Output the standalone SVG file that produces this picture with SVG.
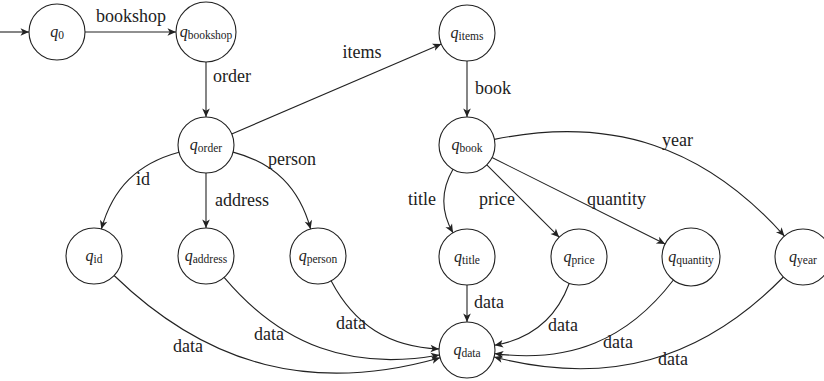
<svg xmlns="http://www.w3.org/2000/svg" width="824" height="381" viewBox="0 0 824 381" font-family="'Liberation Serif', 'DejaVu Serif', serif">
  <style>
    .st { fill: #fff; stroke: #222; stroke-width: 1.1; }
    .nm { fill: #222; text-anchor: middle; }
    .q { font-style: italic; font-size: 16px; }
    .sub { font-size: 11.5px; font-style: normal; }
    .edge { fill: none; stroke: #222; stroke-width: 1.1; marker-end: url(#head); }
    .lbl { font-size: 18px; fill: #222; }
  </style>
  <defs>
    <marker id="head" viewBox="-9 -5 10 10" refX="0" refY="0" markerWidth="10" markerHeight="10" markerUnits="userSpaceOnUse" orient="auto">
      <path d="M-8.5,-3.8 L0,0 L-8.5,3.8 L-6.3,0 Z" fill="#222"/>
    </marker>
  </defs>

  <!-- states -->
  <g id="q0"><circle class="st" cx="57" cy="32" r="28"/><text class="nm" x="57" y="37"><tspan class="q">q</tspan><tspan class="sub" dy="1.5">0</tspan></text></g>
  <g id="q-bookshop"><circle class="st" cx="206" cy="32" r="30"/><text class="nm" x="206" y="37"><tspan class="q">q</tspan><tspan class="sub" dy="1.5">bookshop</tspan></text></g>
  <g id="q-items"><circle class="st" cx="467" cy="33" r="28"/><text class="nm" x="467" y="38"><tspan class="q">q</tspan><tspan class="sub" dy="1.5">items</tspan></text></g>
  <g id="q-order"><circle class="st" cx="206" cy="145" r="28"/><text class="nm" x="206" y="150"><tspan class="q">q</tspan><tspan class="sub" dy="1.5">order</tspan></text></g>
  <g id="q-book"><circle class="st" cx="467" cy="145" r="28"/><text class="nm" x="467" y="150"><tspan class="q">q</tspan><tspan class="sub" dy="1.5">book</tspan></text></g>
  <g id="q-id"><circle class="st" cx="94" cy="256" r="28"/><text class="nm" x="94" y="261"><tspan class="q">q</tspan><tspan class="sub" dy="1.5">id</tspan></text></g>
  <g id="q-address"><circle class="st" cx="206" cy="256" r="28"/><text class="nm" x="206" y="261"><tspan class="q">q</tspan><tspan class="sub" dy="1.5">address</tspan></text></g>
  <g id="q-person"><circle class="st" cx="318" cy="256" r="28"/><text class="nm" x="318" y="261"><tspan class="q">q</tspan><tspan class="sub" dy="1.5">person</tspan></text></g>
  <g id="q-title"><circle class="st" cx="467" cy="257" r="28"/><text class="nm" x="467" y="262"><tspan class="q">q</tspan><tspan class="sub" dy="1.5">title</tspan></text></g>
  <g id="q-price"><circle class="st" cx="579" cy="257" r="28"/><text class="nm" x="579" y="262"><tspan class="q">q</tspan><tspan class="sub" dy="1.5">price</tspan></text></g>
  <g id="q-quantity"><circle class="st" cx="691" cy="257" r="29"/><text class="nm" x="691" y="262"><tspan class="q">q</tspan><tspan class="sub" dy="1.5">quantity</tspan></text></g>
  <g id="q-year"><circle class="st" cx="803" cy="257" r="28"/><text class="nm" x="803" y="262"><tspan class="q">q</tspan><tspan class="sub" dy="1.5">year</tspan></text></g>
  <g id="q-data"><circle class="st" cx="467" cy="350" r="28"/><text class="nm" x="467" y="355"><tspan class="q">q</tspan><tspan class="sub" dy="1.5">data</tspan></text></g>

  <!-- transitions -->
  <g id="transitions">
    <path class="edge" d="M0,32 L29,32"/>
    <path class="edge" d="M85,32 L176,32"/>
    <path class="edge" d="M206,62 L206,117"/>
    <path class="edge" d="M231.7,134 L441.3,44"/>
    <path class="edge" d="M467,61 L467,117"/>
    <path class="edge" d="M179,152.2 C137.8,163.3 112.7,187.8 101.4,229"/>
    <path class="edge" d="M206,173 L206,228"/>
    <path class="edge" d="M233.1,152.1 C274.4,163 299.3,187.8 310.6,229"/>
    <path class="edge" d="M453,169.2 C440.5,190.8 440.5,211.2 453,232.8"/>
    <path class="edge" d="M486.8,164.8 L559.2,237.2"/>
    <path class="edge" d="M492,157.5 L665.1,244"/>
    <path class="edge" d="M494.4,139.4 C611.7,115.3 704.9,146.6 784.4,236.1"/>
    <path class="edge" d="M114.1,275.5 C208.6,367.1 313.5,393.8 440.1,357.7"/>
    <path class="edge" d="M224.1,277.4 C281.9,345.9 351.2,370.9 439.4,355"/>
    <path class="edge" d="M331.1,280.8 C354.4,325.1 389,347 439,348.9"/>
    <path class="edge" d="M467,285 L467,322"/>
    <path class="edge" d="M569.3,283.3 C556.1,318.9 532.1,338.9 494.6,345.3"/>
    <path class="edge" d="M673.4,280 C627.5,340 569.8,363.4 494.8,353.6"/>
    <path class="edge" d="M783.4,277 C701,360.8 607.8,386.4 494.1,357"/>
  </g>

  <!-- transition labels -->
  <g id="labels">
    <text class="lbl" x="131" y="22" text-anchor="middle">bookshop</text>
    <text class="lbl" x="213" y="82">order</text>
    <text class="lbl" x="362" y="58" text-anchor="middle">items</text>
    <text class="lbl" x="475" y="94">book</text>
    <text class="lbl" x="136" y="185">id</text>
    <text class="lbl" x="215" y="206">address</text>
    <text class="lbl" x="268" y="165">person</text>
    <text class="lbl" x="408" y="205">title</text>
    <text class="lbl" x="479" y="205">price</text>
    <text class="lbl" x="587" y="205">quantity</text>
    <text class="lbl" x="662" y="146">year</text>
    <text class="lbl" x="173" y="352">data</text>
    <text class="lbl" x="254" y="340">data</text>
    <text class="lbl" x="336" y="329">data</text>
    <text class="lbl" x="474" y="308">data</text>
    <text class="lbl" x="548" y="331">data</text>
    <text class="lbl" x="603" y="348">data</text>
    <text class="lbl" x="658" y="365">data</text>
  </g>
</svg>
